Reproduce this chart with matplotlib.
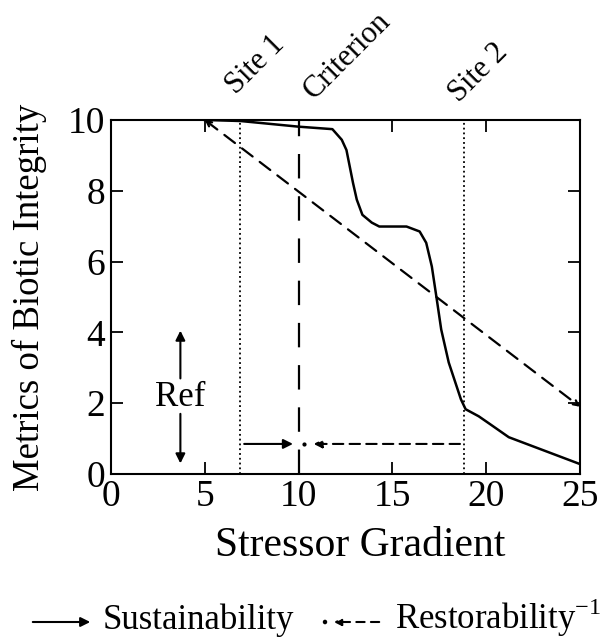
import numpy as np
import matplotlib.pyplot as plt
from matplotlib.patches import FancyArrowPatch

plt.rcParams['font.family'] = ['Liberation Serif', 'DejaVu Serif']

# biotic integrity response curve
curve_x = [5, 6.9, 10, 11.8, 12.3, 12.55, 12.9, 13.1, 13.4, 13.9, 14.3, 15.75,
           16.45, 16.8, 17.1, 17.35, 17.6, 18.0, 18.65, 18.9, 19.6, 20.2, 21.2, 25]
curve_y = [10, 9.97, 9.81, 9.74, 9.44, 9.15, 8.22, 7.75, 7.32, 7.1, 6.99, 6.99,
           6.85, 6.53, 5.86, 4.98, 4.08, 3.15, 2.11, 1.83, 1.63, 1.41, 1.04, 0.28]

# linear reference line
lin_x = [5, 25]
lin_y = [10, 1.9]

site1 = 6.9
criterion = 10
site2 = 18.8
arrow_y = 0.85

ref_x = 3.7
ref_up = [2.7, 4.05]
ref_down = [1.7, 0.3]

site_labels = ['Site 1', 'Criterion', 'Site 2']
site_label_pos = [(7.7, 11.55), (12.58, 11.80), (19.56, 11.32)]

xticks = [0, 5, 10, 15, 20, 25]
yticks = [0, 2, 4, 6, 8, 10]

fig = plt.figure(figsize=(6.03, 6.38), dpi=100)
ax = fig.add_axes([0.184, 0.257, 0.778, 0.555])

ax.plot(curve_x, curve_y, color='black', lw=1.8)
ax.annotate('', xy=(lin_x[1], lin_y[1]), xytext=(lin_x[0], lin_y[0]),
            arrowprops=dict(arrowstyle='<->,head_length=0.35,head_width=0.18',
                            color='black', lw=1.6, ls=(0, (6, 4)),
                            shrinkA=0, shrinkB=0))

ax.axvline(site1, color='black', lw=1.3, ls=':')
ax.axvline(site2, color='black', lw=1.3, ls=':')
ax.axvline(criterion, color='black', lw=1.6, dashes=(11, 8))

# sustainability / restorability arrows
ax.annotate('', xy=(9.7, arrow_y), xytext=(7.1, arrow_y),
            arrowprops=dict(arrowstyle='-|>', color='black', lw=1.5,
                            mutation_scale=14, shrinkA=0, shrinkB=0))
ax.annotate('', xy=(10.8, arrow_y), xytext=(18.6, arrow_y),
            arrowprops=dict(arrowstyle='-|>', color='black', lw=1.5, ls=(0, (5, 3)),
                            mutation_scale=12, shrinkA=0, shrinkB=0))
ax.plot([10.3], [arrow_y], 'o', color='black', ms=2)

# Ref arrows
ax.annotate('', xy=(ref_x, ref_up[1]), xytext=(ref_x, ref_up[0]),
            arrowprops=dict(arrowstyle='-|>', color='black', lw=1.5,
                            mutation_scale=14, shrinkA=0, shrinkB=0))
ax.annotate('', xy=(ref_x, ref_down[1]), xytext=(ref_x, ref_down[0]),
            arrowprops=dict(arrowstyle='-|>', color='black', lw=1.5,
                            mutation_scale=14, shrinkA=0, shrinkB=0))
ax.text(ref_x, 2.17, 'Ref', fontsize=25, ha='center', va='center')

for lab, (tx, ty) in zip(site_labels, site_label_pos):
    ax.text(tx, ty, lab, fontsize=22, rotation=45, ha='center', va='center',
            clip_on=False)

ax.set_xlim(0, 25)
ax.set_ylim(0, 10)
ax.set_xticks(xticks)
ax.set_yticks(yticks)
ax.tick_params(direction='in', length=8.5, width=1.3, top=True, right=True,
               labelsize=27, pad=4)
for s in ax.spines.values():
    s.set_linewidth(1.5)

ax.set_xlabel('Stressor Gradient', fontsize=30, labelpad=9, x=0.531)
ax.set_ylabel('Metrics of Biotic Integrity', fontsize=26.5, labelpad=15)

# legend drawn by hand
base = 9 / 638
yl = 16 / 638
fig.patches.append(FancyArrowPatch(
    (30 / 603, yl), (93 / 603, yl), transform=fig.transFigure, arrowstyle='-|>',
    mutation_scale=14, lw=1.5, color='black'))
fig.text(103 / 603, base, 'Sustainability', fontsize=25, ha='left', va='baseline')
fig.patches.append(FancyArrowPatch(
    (382 / 603, yl), (331 / 603, yl), transform=fig.transFigure, arrowstyle='-|>',
    mutation_scale=11, lw=1.5, color='black', linestyle=(0, (4, 3))))
fig.patches.append(plt.Circle((325 / 603, yl), 0.0025, transform=fig.transFigure,
                              color='black'))
fig.text(395 / 603, base, 'Restorability$^{\\mathregular{-1}}$', fontsize=25,
         ha='left', va='baseline')

fig.savefig('out.png', dpi=100)
